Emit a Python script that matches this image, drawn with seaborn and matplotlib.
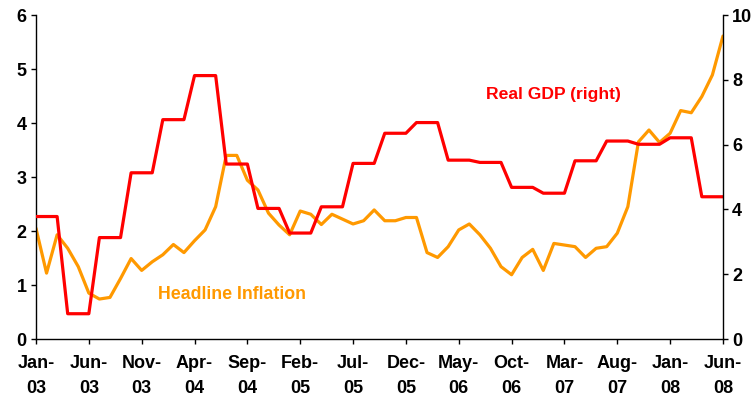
import numpy as np
import pandas as pd
import matplotlib
matplotlib.use("Agg")
import matplotlib.pyplot as plt
import seaborn as sns

# meses Jan-03 .. Jun-08
meses = pd.date_range("2003-01-01", "2008-06-01", freq="MS")

inflacao = [
    2.05, 1.22, 1.93, 1.68, 1.34, 0.85, 0.74, 0.77, 1.12, 1.49, 1.27, 1.43,
    1.56, 1.75, 1.60, 1.82, 2.02, 2.45, 3.40, 3.40, 2.94, 2.76, 2.33, 2.11,
    1.93, 2.37, 2.31, 2.12, 2.31, 2.22, 2.13, 2.19, 2.39, 2.19, 2.19, 2.25,
    2.25, 1.60, 1.51, 1.71, 2.02, 2.13, 1.93, 1.68, 1.34, 1.19, 1.51, 1.66,
    1.27, 1.77, 1.74, 1.71, 1.51, 1.68, 1.71, 1.96, 2.45, 3.65, 3.87, 3.64,
    3.81, 4.23, 4.19, 4.49, 4.89, 5.61,
]

pib_real = [
    3.78, 3.78, 3.78, 0.78, 0.78, 0.78, 3.13, 3.13, 3.13, 5.13, 5.13, 5.13,
    6.77, 6.77, 6.77, 8.13, 8.13, 8.13, 5.40, 5.40, 5.40, 4.03, 4.03, 4.03,
    3.27, 3.27, 3.27, 4.08, 4.08, 4.08, 5.42, 5.42, 5.42, 6.35, 6.35, 6.35,
    6.68, 6.68, 6.68, 5.52, 5.52, 5.52, 5.45, 5.45, 5.45, 4.68, 4.68, 4.68,
    4.50, 4.50, 4.50, 5.50, 5.50, 5.50, 6.11, 6.11, 6.11, 6.01, 6.01, 6.01,
    6.21, 6.21, 6.21, 4.39, 4.39, 4.39,
]

df = pd.DataFrame({
    "t": np.arange(len(meses)),
    "inflacao": inflacao,
    "pib": pib_real,
})

rotulos = [m.strftime("%b-\n%y") for m in meses]

sns.set_style("white")
plt.rcParams["font.family"] = ["Liberation Sans", "DejaVu Sans"]
plt.rcParams["font.weight"] = "bold"

laranja = "#FF9900"
vermelho = "#FF0000"

fig = plt.figure(figsize=(7.56, 4.0), dpi=100)
ax = fig.add_axes([0.0476, 0.1525, 0.9087, 0.81])
ax2 = ax.twinx()

sns.lineplot(data=df, x="t", y="inflacao", ax=ax, color=laranja, linewidth=2.3)
sns.lineplot(data=df, x="t", y="pib", ax=ax2, color=vermelho, linewidth=2.3)

ax.set_xlim(0, len(meses) - 1)
ax.set_ylim(0, 6)
ax2.set_ylim(0, 10)
ax.set_yticks(range(0, 7))
ax2.set_yticks(range(0, 11, 2))

passos = list(range(0, len(meses), 5))
ax.set_xticks(passos)
ax.set_xticklabels([rotulos[i] for i in passos], linespacing=1.6)

for a in (ax, ax2):
    a.set_xlabel("")
    a.set_ylabel("")
    a.spines["top"].set_visible(False)
    for s in a.spines.values():
        s.set_linewidth(1.0)
        s.set_color("black")
    a.tick_params(axis="both", labelsize=13, length=3.6, width=1, direction="out",
                  colors="black")
ax.spines["right"].set_visible(False)
ax2.spines["left"].set_visible(False)
ax2.spines["bottom"].set_visible(False)
ax.tick_params(axis="y", left=True, pad=3)
ax2.tick_params(axis="y", right=True, pad=3)
ax.tick_params(axis="x", bottom=True, pad=8)

ax.text(11.5, 0.82, "Headline Inflation", color=laranja, fontsize=12.8,
        fontweight="bold", ha="left", va="center")
ax2.text(42.6, 7.55, "Real GDP (right)", color=vermelho, fontsize=12.6,
         fontweight="bold", ha="left", va="center")

fig.savefig("out.png", dpi=100)
